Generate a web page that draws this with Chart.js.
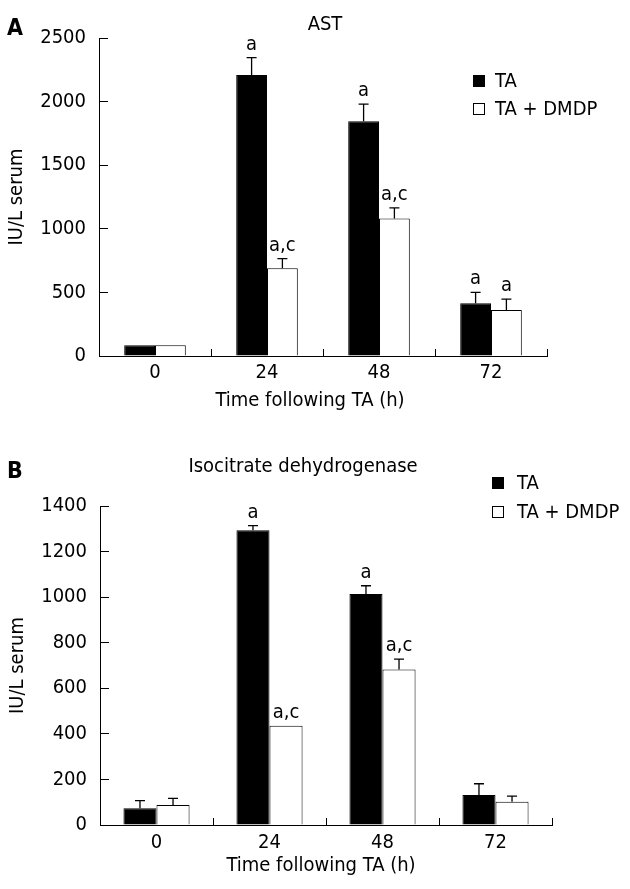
<!DOCTYPE html>
<html><head><meta charset="utf-8">
<script src="https://cdn.jsdelivr.net/npm/chart.js@4.4.1/dist/chart.umd.min.js"></script>
<style>
html,body{margin:0;padding:0;background:#fff;}
#wrap{position:relative;width:630px;height:889px;overflow:hidden;}
canvas{position:absolute;left:0;}
</style></head><body>
<div id="wrap">
<canvas id="cA" width="630" height="440" style="top:0px"></canvas>
<canvas id="cB" width="630" height="449" style="top:440px"></canvas>
</div>
<script>
// ---- data ----
const categories = ['0', '24', '48', '72'];
const seriesNames = ['TA', 'TA + DMDP'];

const astTA = [85, 2210, 1845, 415];
const astTAErr = [0, 135, 135, 85];
const astDMDP = [85, 690, 1080, 362];
const astDMDPErr = [0, 75, 85, 85];
const astTAMarks = ['', 'a', 'a', 'a'];
const astDMDPMarks = ['', 'a,c', 'a,c', 'a'];
const astTicks = [0, 500, 1000, 1500, 2000, 2500];

const idhTA = [73, 1294, 1014, 132];
const idhTAErr = [34, 20, 36, 49];
const idhDMDP = [88, 436, 682, 102];
const idhDMDPErr = [29, 0, 46, 25];
const idhTAMarks = ['', 'a', 'a', ''];
const idhDMDPMarks = ['', 'a,c', 'a,c', ''];
const idhTicks = [0, 200, 400, 600, 800, 1000, 1200, 1400];

const panelLabels = ['A', 'B'];
const chartTitles = ['AST', 'Isocitrate dehydrogenase'];
const xTitle = 'Time following TA (h)';
const yTitle = 'IU/L serum';

// ---- style ----
const FONT = "'DejaVu Sans Condensed', 'Liberation Sans', sans-serif";
Chart.defaults.font.family = FONT;
Chart.defaults.font.size = 20;
Chart.defaults.color = '#000';

const errorBars = {
  id: 'errorBars',
  afterDatasetsDraw(chart) {
    const ctx = chart.ctx;
    const y = chart.scales.y;
    ctx.save();
    ctx.strokeStyle = '#000';
    ctx.lineWidth = 1.3;
    ctx.fillStyle = '#000';
    ctx.font = '20px ' + FONT;
    ctx.textAlign = 'center';
    ctx.textBaseline = 'alphabetic';
    chart.data.datasets.forEach((ds, i) => {
      const meta = chart.getDatasetMeta(i);
      meta.data.forEach((bar, j) => {
        const v = ds.data[j];
        const e = ds.err[j];
        const top = y.getPixelForValue(v);
        const et = y.getPixelForValue(v + e);
        if (e > 0) {
          ctx.beginPath();
          ctx.moveTo(bar.x, top);
          ctx.lineTo(bar.x, et);
          ctx.moveTo(bar.x - 5, et);
          ctx.lineTo(bar.x + 5, et);
          ctx.stroke();
        }
        const m = ds.marks[j];
        if (m) ctx.fillText(m, bar.x, et - 8);
      });
    });
    ctx.restore();
  }
};

const decor = {
  id: 'decor',
  afterDraw(chart, args, o) {
    const ctx = chart.ctx;
    ctx.save();
    ctx.fillStyle = '#000';
    ctx.textBaseline = 'middle';
    ctx.font = 'bold 23px ' + FONT;
    ctx.textAlign = 'left';
    ctx.fillText(o.panel, o.panelX, o.panelY);
    ctx.font = '20px ' + FONT;
    ctx.textAlign = 'center';
    ctx.fillText(o.title, o.titleX, o.titleY);
    ctx.fillText(o.xTitle, o.xTitleX, o.xTitleY);
    ctx.textAlign = 'left';
    chart.data.datasets.forEach((ds, i) => {
      const cy = o.legY + i * o.legDy;
      ctx.fillStyle = ds.backgroundColor;
      ctx.fillRect(o.legX, cy - 6, 12, 12);
      ctx.strokeStyle = '#000';
      ctx.lineWidth = 1;
      ctx.strokeRect(o.legX + 0.5, cy - 5.5, 11, 11);
      ctx.fillStyle = '#000';
      ctx.fillText(ds.label, o.legTextX, cy + 1);
    });
    ctx.restore();
  }
};

function makeChart(id, d, L) {
  return new Chart(document.getElementById(id), {
    type: 'bar',
    data: {
      labels: categories,
      datasets: [
        { label: seriesNames[0], data: d.ta, err: d.taErr, marks: d.taMarks,
          backgroundColor: '#000', borderColor: '#000', borderWidth: 1,
          categoryPercentage: L.cat, barPercentage: 1 },
        { label: seriesNames[1], data: d.dm, err: d.dmErr, marks: d.dmMarks,
          backgroundColor: '#fff', borderColor: '#000', borderWidth: 1,
          categoryPercentage: L.cat, barPercentage: 1 }
      ]
    },
    options: {
      responsive: false,
      animation: false,
      layout: { padding: { left: 0, top: L.top, right: 630 - L.right, bottom: 0 } },
      plugins: {
        legend: { display: false },
        tooltip: { enabled: false },
        decor: L.decor
      },
      scales: {
        x: {
          grid: { display: true, drawOnChartArea: false, tickLength: -7, color: '#000', lineWidth: 1 },
          border: { display: true, color: '#000', width: 1 },
          ticks: { color: '#000', padding: L.xPad, maxRotation: 0, autoSkip: false, font: { size: 20 } },
          afterFit: (s) => { s.height = L.xH; }
        },
        y: {
          min: d.ticks[0], max: d.ticks[d.ticks.length - 1],
          afterBuildTicks: (s) => { s.ticks = d.ticks.map(v => ({ value: v })); },
          grid: { display: true, drawOnChartArea: false, tickLength: -9, color: '#000', lineWidth: 1 },
          border: { display: true, color: '#000', width: 1 },
          ticks: { color: '#000', padding: 22, font: { size: 20 }, callback: (v) => String(v) },
          title: { display: true, text: yTitle, color: '#000', font: { size: 20 }, padding: { top: L.yTitlePad, bottom: 0 } },
          afterFit: (s) => { s.width = L.left; }
        }
      }
    },
    plugins: [errorBars, decor]
  });
}

makeChart('cA',
  { ta: astTA, taErr: astTAErr, dm: astDMDP, dmErr: astDMDPErr, taMarks: astTAMarks, dmMarks: astDMDPMarks, ticks: astTicks },
  { left: 99, right: 547, top: 38, xH: 84, xPad: 12, cat: 0.55, yTitlePad: 5,
    decor: { panel: panelLabels[0], panelX: 7, panelY: 29, title: chartTitles[0], titleX: 325, titleY: 25,
             xTitle: xTitle, xTitleX: 310, xTitleY: 401, legX: 473, legY: 81, legDy: 28, legTextX: 495 } });

makeChart('cB',
  { ta: idhTA, taErr: idhTAErr, dm: idhDMDP, dmErr: idhDMDPErr, taMarks: idhTAMarks, dmMarks: idhDMDPMarks, ticks: idhTicks },
  { left: 100, right: 552, top: 66, xH: 64, xPad: 13, cat: 0.585, yTitlePad: 6,
    decor: { panel: panelLabels[1], panelX: 7, panelY: 32, title: chartTitles[1], titleX: 303, titleY: 27,
             xTitle: xTitle, xTitleX: 321, xTitleY: 426, legX: 492, legY: 43, legDy: 29, legTextX: 517 } });
</script>
</body></html>
